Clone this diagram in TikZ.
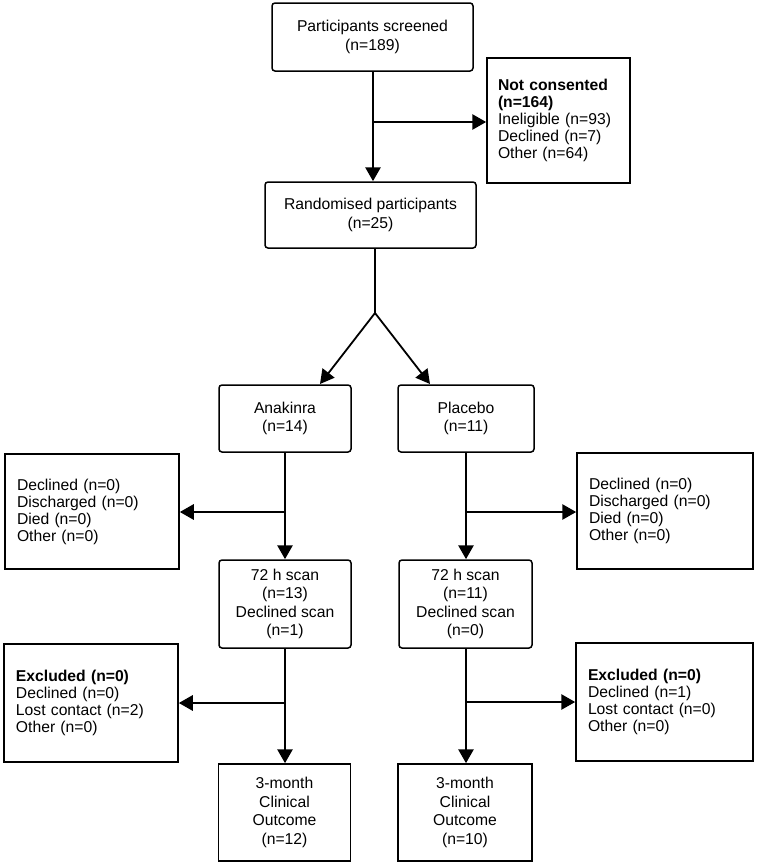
\documentclass[tikz,border=0pt]{standalone}
\usepackage{fontspec}
\setmainfont{Liberation Sans}
\usetikzlibrary{arrows.meta}

\begin{document}
\begin{tikzpicture}[x=1pt,y=-1pt,>={Triangle[length=14pt,width=15pt]},
    font=\fontsize{15.7pt}{18.5pt}\selectfont,
    mainbox/.style={draw,line width=1.5pt,rounded corners=3pt,align=center,inner sep=0pt},
    outbox/.style={draw,line width=1.5pt,align=center,inner sep=0pt},
    sidebox/.style={draw,line width=1.5pt,align=left,inner xsep=12pt,inner ysep=0pt,
      font=\fontsize{15.7pt}{17pt}\selectfont},
    flow/.style={->,line width=2.8pt},
    split/.style={line width=1.8pt}]
    \useasboundingbox (0,0) rectangle (757,865);

    % top part
    \draw (372.5,37) node[mainbox,minimum width=201pt,minimum height=68pt] (screen)
      {Participants screened\\(n=189)} ;
    \draw (558.5,120.5) node[sidebox,inner xsep=11pt,text width=121pt,minimum height=125pt] (notcons)
      {\textbf{Not consented}\\\textbf{(n=164)}\\Ineligible (n=93)\\Declined (n=7)\\Other (n=64)} ;
    \draw (370.5,215) node[mainbox,minimum width=211pt,minimum height=66pt] (rand)
      {Randomised participants\\(n=25)} ;

    % arms
    \draw (285,418.5) node[mainbox,minimum width=132pt,minimum height=67pt] (anak)
      {Anakinra\\(n=14)} ;
    \draw (466,418.5) node[mainbox,minimum width=136pt,minimum height=67pt] (plac)
      {Placebo\\(n=11)} ;

    \draw (92,511.5) node[sidebox,text width=150pt,minimum height=115pt] (declA)
      {Declined (n=0)\\Discharged (n=0)\\Died (n=0)\\Other (n=0)} ;
    \draw (665,511) node[sidebox,text width=152pt,minimum height=116pt] (declP)
      {Declined (n=0)\\Discharged (n=0)\\Died (n=0)\\Other (n=0)} ;

    \draw (285,604) node[mainbox,minimum width=132pt,minimum height=88pt] (scanA)
      {72 h scan\\(n=13)\\Declined scan\\(n=1)} ;
    \draw (465.5,604) node[mainbox,minimum width=133pt,minimum height=88pt] (scanP)
      {72 h scan\\(n=11)\\Declined scan\\(n=0)} ;

    \draw (91,703) node[sidebox,text width=150pt,minimum height=118pt] (exclA)
      {\textbf{Excluded (n=0)}\\Declined (n=0)\\Lost contact (n=2)\\Other (n=0)} ;
    \draw (664.5,702) node[sidebox,text width=153pt,minimum height=118pt] (exclP)
      {\textbf{Excluded (n=0)}\\Declined (n=1)\\Lost contact (n=0)\\Other (n=0)} ;

    \draw (284.5,812.5) node[outbox,minimum width=132pt,minimum height=97pt] (outA)
      {3-month\\Clinical\\Outcome\\(n=12)} ;
    \draw (465,812.5) node[outbox,minimum width=134pt,minimum height=97pt] (outP)
      {3-month\\Clinical\\Outcome\\(n=10)} ;

    % branch points
    \coordinate (b0) at (373,122);
    \coordinate (fork) at (375,313);
    \coordinate (toA) at (320,384);
    \coordinate (toP) at (430,384);
    \coordinate (b1) at (285,512);
    \coordinate (b2) at (466,512);
    \coordinate (b3) at (285,703);
    \coordinate (b4) at (466,702);

    % connectors
    \draw[flow] (screen.south -| b0) -- (rand.north -| b0);
    \draw[flow] (b0) -- (b0 -| notcons.west);

    \draw[split] (rand.south -| fork) -- (fork);
    \draw[split,->] (fork) -- (toA);
    \draw[split,->] (fork) -- (toP);

    \draw[flow] (anak.south -| b1) -- (scanA.north -| b1);
    \draw[flow] (b1) -- (b1 -| declA.east);
    \draw[flow] (plac.south -| b2) -- (scanP.north -| b2);
    \draw[flow] (b2) -- (b2 -| declP.west);

    \draw[flow] (scanA.south -| b3) -- (outA.north -| b3);
    \draw[flow] (b3) -- (b3 -| exclA.east);
    \draw[flow] (scanP.south -| b4) -- (outP.north -| b4);
    \draw[flow] (b4) -- (b4 -| exclP.west);
  \end{tikzpicture}
\end{document}
